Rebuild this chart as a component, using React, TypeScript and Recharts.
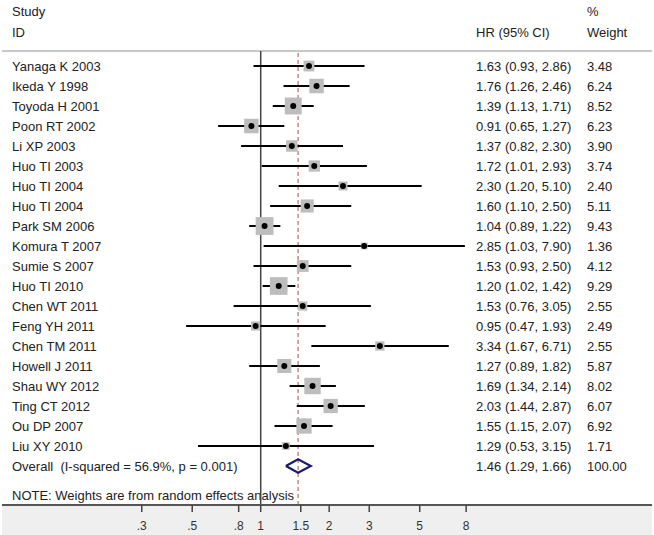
import React from 'react';
import { ScatterChart, Scatter, XAxis, YAxis, ReferenceLine, ErrorBar } from 'recharts';

const studies = [
  'Yanaga K 2003', 'Ikeda Y 1998', 'Toyoda H 2001', 'Poon RT 2002', 'Li XP 2003',
  'Huo TI 2003', 'Huo TI 2004', 'Huo TI 2004', 'Park SM 2006', 'Komura T 2007',
  'Sumie S 2007', 'Huo TI 2010', 'Chen WT 2011', 'Feng YH 2011', 'Chen TM 2011',
  'Howell J 2011', 'Shau WY 2012', 'Ting CT 2012', 'Ou DP 2007', 'Liu XY 2010',
];
const hrValues = [1.63, 1.76, 1.39, 0.91, 1.37, 1.72, 2.30, 1.60, 1.04, 2.85, 1.53, 1.20, 1.53, 0.95, 3.34, 1.27, 1.69, 2.03, 1.55, 1.29];
const ciLower = [0.93, 1.26, 1.13, 0.65, 0.82, 1.01, 1.20, 1.10, 0.89, 1.03, 0.93, 1.02, 0.76, 0.47, 1.67, 0.89, 1.34, 1.44, 1.15, 0.53];
const ciUpper = [2.86, 2.46, 1.71, 1.27, 2.30, 2.93, 5.10, 2.50, 1.22, 7.90, 2.50, 1.42, 3.05, 1.93, 6.71, 1.82, 2.14, 2.87, 2.07, 3.15];
const weights = [3.48, 6.24, 8.52, 6.23, 3.90, 3.74, 2.40, 5.11, 9.43, 1.36, 4.12, 9.29, 2.55, 2.49, 2.55, 5.87, 8.02, 6.07, 6.92, 1.71];

const overallLabel = 'Overall  (I-squared = 56.9%, p = 0.001)';
const overallHr = 1.46;
const overallLower = 1.29;
const overallUpper = 1.66;
const overallWeight = '100.00';

const xTicks = [0.3, 0.5, 0.8, 1, 1.5, 2, 3, 5, 8];
const xTickLabels = ['.3', '.5', '.8', '1', '1.5', '2', '3', '5', '8'];

const FONT = '"Liberation Sans", Arial, sans-serif';
const TEXT = '#222';

const rows = studies.map((name, i) => ({
  x: hrValues[i],
  y: i,
  w: weights[i],
  err: [hrValues[i] - ciLower[i], ciUpper[i] - hrValues[i]],
}));

const overallRow = studies.length;
const diamond = [
  { x: overallLower, y: overallRow },
  { x: overallHr, y: overallRow - 0.34 },
  { x: overallUpper, y: overallRow },
  { x: overallHr, y: overallRow + 0.34 },
  { x: overallLower, y: overallRow },
];

const rowTicks = Array.from({ length: studies.length + 1 }, (_, i) => i);

const fmt = (v: number) => v.toFixed(2);

const LeftTick = (props: any) => {
  const i = props.payload.value;
  const label = i < studies.length ? studies[i] : overallLabel;
  return (
    <text x={12} y={props.y} dominantBaseline="central" fontSize={13} fontFamily={FONT} fill={TEXT} style={{ whiteSpace: 'pre' }}>
      {label}
    </text>
  );
};

const RightTick = (props: any) => {
  const i = props.payload.value;
  const txt = i < studies.length
    ? `${fmt(hrValues[i])} (${fmt(ciLower[i])}, ${fmt(ciUpper[i])})`
    : `${fmt(overallHr)} (${fmt(overallLower)}, ${fmt(overallUpper)})`;
  const w = i < studies.length ? fmt(weights[i]) : overallWeight;
  return (
    <g>
      <text x={476} y={props.y} dominantBaseline="central" fontSize={13} fontFamily={FONT} fill={TEXT}>{txt}</text>
      <text x={587} y={props.y} dominantBaseline="central" fontSize={13} fontFamily={FONT} fill={TEXT}>{w}</text>
    </g>
  );
};

const SquareShape = (p: any) => {
  const s = 5.8 * Math.sqrt(p.payload.w);
  return <rect x={p.cx - s / 2} y={p.cy - s / 2} width={s} height={s} fill="#bdbdbd" />;
};

const DotShape = (p: any) => <circle cx={p.cx} cy={p.cy} r={3} fill="#000" />;
const NoShape = () => <g />;

const textStyle: React.CSSProperties = {
  position: 'absolute',
  fontFamily: FONT,
  fontSize: 13,
  color: TEXT,
  lineHeight: '16px',
  whiteSpace: 'pre',
};

export default function App() {
  return (
    <div style={{ position: 'absolute', left: 0, top: 0, width: 654, height: 535, background: '#fff' }}>
      <div style={{ position: 'absolute', left: 2, top: 505, width: 650, height: 30, background: '#efefef' }} />
      <div style={{ ...textStyle, left: 12, top: 4 }}>Study</div>
      <div style={{ ...textStyle, left: 12, top: 25 }}>ID</div>
      <div style={{ ...textStyle, left: 476, top: 25 }}>HR (95% CI)</div>
      <div style={{ ...textStyle, left: 587, top: 4 }}>%</div>
      <div style={{ ...textStyle, left: 587, top: 25 }}>Weight</div>
      <div style={{ ...textStyle, left: 12, top: 488 }}>NOTE: Weights are from random effects analysis</div>
      <div style={{ position: 'absolute', left: 0, top: 0 }}>
        <ScatterChart width={654} height={535} margin={{ top: 51, right: 1, bottom: 0, left: 1 }}>
          <XAxis
            type="number"
            dataKey="x"
            scale="log"
            domain={[0.0729, 52.5]}
            allowDataOverflow
            ticks={xTicks}
            tickFormatter={(v: number) => xTickLabels[xTicks.indexOf(v)] ?? String(v)}
            height={30}
            tickSize={7}
            tickMargin={9}
            axisLine={{ stroke: '#555', strokeWidth: 2 }}
            tickLine={{ stroke: '#444', strokeWidth: 1.5 }}
            tick={{ fontSize: 12, fill: '#333', fontFamily: FONT }}
          />
          <YAxis
            yAxisId="left"
            type="number"
            dataKey="y"
            domain={[-0.75, 21.95]}
            reversed
            allowDataOverflow
            ticks={rowTicks}
            interval={0}
            width={1}
            axisLine={false}
            tickLine={false}
            tick={LeftTick}
          />
          <YAxis
            yAxisId="right"
            orientation="right"
            type="number"
            dataKey="y"
            domain={[-0.75, 21.95]}
            reversed
            allowDataOverflow
            ticks={rowTicks}
            interval={0}
            width={1}
            axisLine={false}
            tickLine={false}
            tick={RightTick}
          />
          <ReferenceLine yAxisId="left" y={-0.75} stroke="#c8c8c8" strokeWidth={2} />
          <ReferenceLine yAxisId="left" x={1} stroke="#444" strokeWidth={1.5} />
          <ReferenceLine yAxisId="left" x={overallHr} stroke="#a8504a" strokeWidth={1} strokeDasharray="4 3" />
          <Scatter yAxisId="left" data={rows} shape={SquareShape} isAnimationActive={false} />
          <Scatter yAxisId="left" data={rows} shape={DotShape} isAnimationActive={false}>
            <ErrorBar dataKey="err" direction="x" width={0} stroke="#000" strokeWidth={2} />
          </Scatter>
          <Scatter
            yAxisId="left"
            data={diamond}
            shape={NoShape}
            line={{ stroke: '#1b1b6e', strokeWidth: 2.2 }}
            lineType="joint"
            isAnimationActive={false}
          />
        </ScatterChart>
      </div>
    </div>
  );
}
